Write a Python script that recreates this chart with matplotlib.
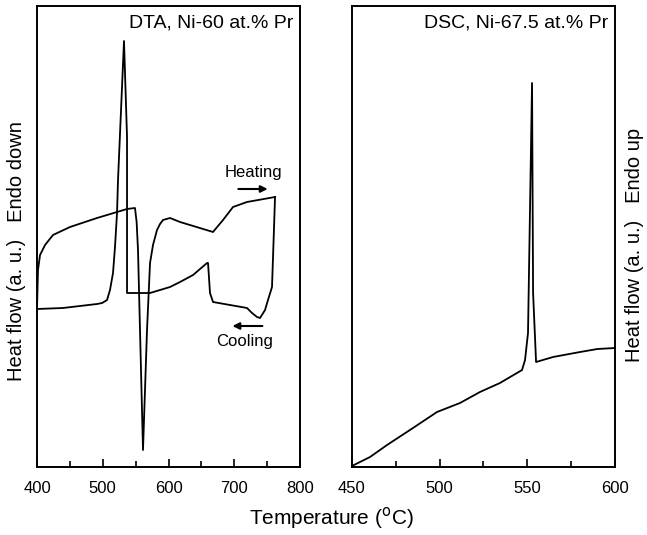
import numpy as np
import matplotlib.pyplot as plt
from matplotlib.ticker import MultipleLocator

plt.rcParams['font.family'] = ['Liberation Sans', 'DejaVu Sans']

## DTA, Ni-60 at.% Pr : heating run (temperature in C, heat flow a.u.)
dta_heat_T = [400, 401.5, 404.6, 412.2, 424.3, 450.2, 491.3, 536.9, 549.0, 551.5, 553.6,
              561.2, 567.3, 571.9, 576.4, 582.5, 587.1, 591.6, 602.3, 617.5, 667.7,
              674.0, 682.9, 698.1, 719.4, 762.0]
dta_heat_y = [158, 197, 212, 222, 232, 240, 249, 258, 259, 245, 217,
              17, 137, 204, 222, 237, 243, 247, 249, 245, 235,
              240, 247, 260, 265, 270]

## DTA cooling run (drawn from high to low temperature)
dta_cool_T = [762.0, 760.5, 757.4, 751.3, 746.8, 739.2, 734.6, 727.0, 719.4, 667.7, 663.1,
              660.1, 658.6, 637.3, 617.5, 602.3, 571.9, 556.7, 536.9, 536.9, 532.3,
              523.2, 521.7, 518.6, 515.6, 511.0, 506.5, 499.0, 491.3, 439.5, 400]
dta_cool_y = [270, 240, 180, 167, 157, 149, 150, 154, 159, 165, 174,
              204, 204, 192, 185, 180, 174, 174, 174, 330, 426,
              287, 254, 220, 194, 177, 167, 164, 163, 159, 158]

## DSC, Ni-67.5 at.% Pr
dsc_T = [450, 460.3, 470, 484.8, 498.5, 511.6, 523, 534.4, 547, 548.7, 550.4, 552.7,
         553.3, 555.0, 564.7, 580.1, 590.0, 600]
dsc_y = [1, 10, 22, 39, 55, 64, 75, 84, 97, 107, 134, 384,
         174, 105, 110, 115, 118, 119]

fig = plt.figure(figsize=(6.47, 5.35), dpi=100)
ax1 = fig.add_axes([0.0572, 0.1271, 0.4065, 0.8617])
ax2 = fig.add_axes([0.5440, 0.1271, 0.4065, 0.8617])

ax1.plot(dta_heat_T, dta_heat_y, color='black', lw=1.3)
ax1.plot(dta_cool_T, dta_cool_y, color='black', lw=1.3)
ax2.plot(dsc_T, dsc_y, color='black', lw=1.3)

ax1.set_xlim(400, 800)
ax2.set_xlim(450, 600)
for ax in (ax1, ax2):
    ax.set_ylim(0, 461)
    ax.set_yticks([])
    for s in ax.spines.values():
        s.set_linewidth(1.4)
    ax.tick_params(axis='x', which='both', direction='in', top=False,
                   labelsize=12, pad=10, width=1.2)
    ax.tick_params(axis='x', which='major', length=6)
    ax.tick_params(axis='x', which='minor', length=4)

ax1.xaxis.set_major_locator(MultipleLocator(100))
ax1.xaxis.set_minor_locator(MultipleLocator(50))
ax2.xaxis.set_major_locator(MultipleLocator(50))
ax2.xaxis.set_minor_locator(MultipleLocator(25))

ax1.text(0.975, 0.963, 'DTA, Ni-60 at.% Pr', transform=ax1.transAxes,
         ha='right', va='center', fontsize=14)
ax2.text(0.975, 0.963, 'DSC, Ni-67.5 at.% Pr', transform=ax2.transAxes,
         ha='right', va='center', fontsize=14)

# heating / cooling arrows
ax1.annotate('', xy=(755, 278), xytext=(702, 278),
             arrowprops=dict(arrowstyle='-|>', color='black', lw=1.5, mutation_scale=10))
ax1.text(729, 294, 'Heating', ha='center', va='center', fontsize=12)
ax1.annotate('', xy=(693, 141), xytext=(747, 141),
             arrowprops=dict(arrowstyle='-|>', color='black', lw=1.5, mutation_scale=10))
ax1.text(716, 125, 'Cooling', ha='center', va='center', fontsize=12)

fig.text(0.026, 0.531, 'Heat flow (a. u.)   Endo down', rotation=90,
         ha='center', va='center', fontsize=14.5)
fig.text(0.981, 0.542, 'Heat flow (a. u.)   Endo up', rotation=90,
         ha='center', va='center', fontsize=14.5)
fig.text(0.512, 0.032, r'Temperature ($^{\rm o}$C)', ha='center', va='center',
         fontsize=15)

fig.savefig('out.png', dpi=100)
